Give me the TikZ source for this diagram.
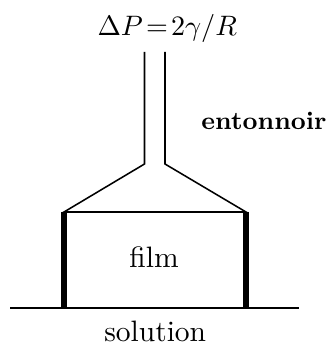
\documentclass[tikz,border=0pt]{standalone}
\usepackage{amsmath, amssymb}
\usetikzlibrary{positioning}

\begin{document}
\begin{tikzpicture}[
      thin line/.style={line width=0.55pt, black},
      wall/.style={line width=1.9pt, black},
      lbl/.style={inner sep=0pt, align=center, font=\fontsize{10.5}{12}\selectfont},
    ]
    \useasboundingbox (0,0) rectangle (4.1,4.3);
    \coordinate (tubeLtop) at (1.806,3.65);
    \coordinate (tubeRtop) at (2.0625,3.65);
    \coordinate (tubeLbot) at (1.806,2.25);
    \coordinate (tubeRbot) at (2.0625,2.25);
    \coordinate (filmLtop) at (0.8,1.65);
    \coordinate (filmRtop) at (3.075,1.65);
    \coordinate (filmLbot) at (0.8,0.45);
    \coordinate (filmRbot) at (3.075,0.45);
    \coordinate (solL) at (0.125,0.45);
    \coordinate (solR) at (3.7375,0.45);

    \node (pression) [inner sep=0pt] at (2.09,3.95) {$\Delta P\!=\!2\gamma/R$};
    \node (entonnoir) [inner sep=0pt] at (3.3,2.79) {\fontsize{9}{11}\selectfont\bfseries entonnoir};
    \node[lbl] (film) at (1.925,1.09) {film};
    \node[lbl, anchor=base] (solution) at (1.94,0.03) {solution};

    \draw[thin line] (tubeLtop) -- (tubeLbot) -- (filmLtop) -- (filmRtop) -- (tubeRbot) -- (tubeRtop);
    \draw[thin line] (solL) -- (solR);
    \draw[wall] (filmLtop) -- (filmLbot);
    \draw[wall] (filmRtop) -- (filmRbot);
  \end{tikzpicture}
\end{document}
